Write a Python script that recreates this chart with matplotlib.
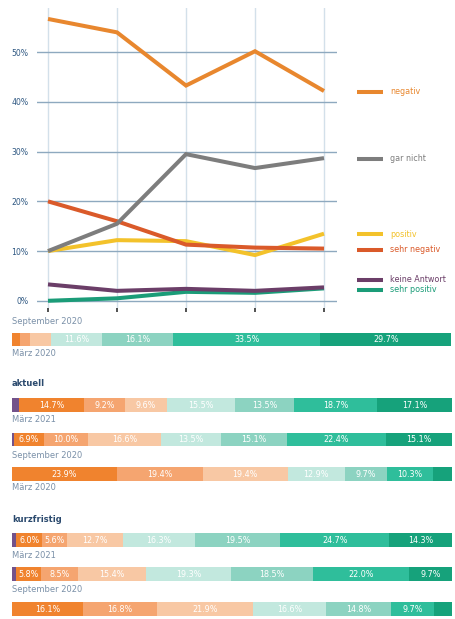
import matplotlib
matplotlib.use("Agg")
import matplotlib.pyplot as plt
from matplotlib.lines import Line2D

# ---------------- data ----------------
waves = ["März 2020", "September 2020", "März 2021", "t4", "t5"]
line_series = ["negativ", "gar nicht", "positiv", "sehr negativ", "keine Antwort", "sehr positiv"]
negativ = [56.7, 54.0, 43.3, 50.2, 42.2]
gar_nicht = [10.0, 15.5, 29.5, 26.7, 28.7]
positiv = [10.0, 12.2, 12.0, 9.2, 13.5]
sehr_negativ = [20.0, 16.0, 11.3, 10.7, 10.5]
keine_antwort = [3.3, 2.0, 2.4, 2.0, 2.7]
sehr_positiv = [0.0, 0.5, 1.8, 1.6, 2.5]
y_ticks = [0, 10, 20, 30, 40, 50]
y_tick_labels = ["0%", "10%", "20%", "30%", "40%", "50%"]

# stacked bars: [keine Antwort, 7 scale categories from negative to positive]
bar_top = [0.0, 1.8, 2.3, 4.8, 11.6, 16.1, 33.5, 29.7]
akt_1 = [1.7, 14.7, 9.2, 9.6, 15.5, 13.5, 18.7, 17.1]
akt_2 = [0.4, 6.9, 10.0, 16.6, 13.5, 15.1, 22.4, 15.1]
akt_3 = [0.0, 23.9, 19.4, 19.4, 12.9, 9.7, 10.3, 4.4]
kurz_1 = [0.9, 6.0, 5.6, 12.7, 16.3, 19.5, 24.7, 14.3]
kurz_2 = [0.8, 5.8, 8.5, 15.4, 19.3, 18.5, 22.0, 9.7]
kurz_3 = [0.0, 16.1, 16.8, 21.9, 16.6, 14.8, 9.7, 4.1]
section_titles = ["aktuell", "kurzfristig"]
date_labels = ["September 2020", "März 2020", "März 2021", "September 2020", "März 2020",
               "März 2021", "September 2020"]

# ---------------- style ----------------
W, H = 456, 619
line_colors = {"negativ": "#E8872E", "gar nicht": "#7D7D7D", "positiv": "#F3C22B",
               "sehr negativ": "#DA5A2A", "keine Antwort": "#6B3E68", "sehr positiv": "#1B9C78"}
seg_colors = ["#73528A", "#F0832E", "#F5A570", "#F8C8A4", "#C2E8DE", "#8CD3C1", "#2FBE9B", "#16A27B"]
tick_col = "#2F5882"
date_col = "#7A90A8"
head_col = "#2B4A6E"

fig = plt.figure(figsize=(W / 100, H / 100), dpi=100)

# ---------------- line chart ----------------
ax = fig.add_axes([37 / W, 1 - 308 / H, 300 / W, 300 / H])
series_vals = [negativ, gar_nicht, positiv, sehr_negativ, keine_antwort, sehr_positiv]
x = list(range(len(waves)))
order = ["sehr positiv", "keine Antwort", "positiv", "sehr negativ", "gar nicht", "negativ"]
for name in order:
    vals = series_vals[line_series.index(name)]
    ax.plot(x, vals, color=line_colors[name], lw=2.9, solid_capstyle="butt",
            solid_joinstyle="miter", zorder=3)
ax.set_xlim(-11 / 69, 4 + 13 / 69)
ax.set_ylim(-1.45, 58.9)
ax.set_yticks(y_ticks)
ax.set_yticklabels(y_tick_labels, color=tick_col, fontsize=5.6)
ax.set_xticks(x)
ax.set_xticklabels([])
ax.tick_params(axis="y", length=0, pad=6)
ax.tick_params(axis="x", length=3, width=1.2, color="#333333", direction="out")
for s in ax.spines.values():
    s.set_visible(False)
ax.yaxis.grid(True, color="#8EA9BF", lw=1.0, zorder=1)
ax.xaxis.grid(True, color="#D3E0EA", lw=1.0, zorder=1)
ax.set_axisbelow(True)

# legend (manual, right side)
leg_y = {"negativ": 92, "gar nicht": 159, "positiv": 234, "sehr negativ": 250,
         "keine Antwort": 280, "sehr positiv": 290}
for name in line_series:
    yy = 1 - leg_y[name] / H
    fig.add_artist(Line2D([357 / W, 383 / W], [yy, yy], color=line_colors[name], lw=2.9,
                          transform=fig.transFigure, solid_capstyle="butt"))
    fig.text(390 / W, yy, name, color=line_colors[name], fontsize=5.8, va="center", ha="left")

# ---------------- stacked bars ----------------
bax = fig.add_axes([12 / W, 0, 440 / W, 1])
bax.set_xlim(0, 100)
bax.set_ylim(H, 0)
bax.axis("off")

bars = [bar_top, akt_1, akt_2, akt_3, kurz_1, kurz_2, kurz_3]
bar_y = [339.5, 405, 439.5, 474, 540, 574, 609]
for vals, yc in zip(bars, bar_y):
    left = 0.0
    for i, v in enumerate(vals):
        if v > 0:
            bax.barh(yc, v, left=left, height=13.5, color=seg_colors[i], edgecolor="none")
            if i > 0 and v >= 5:
                bax.text(left + v / 2, yc + 0.5, f"{v:.1f}%", color="white", fontsize=5.8,
                         ha="center", va="center")
        left += v

date_y = [321, 354, 420, 455, 488, 555, 589]
for lab, yy in zip(date_labels, date_y):
    bax.text(0, yy, lab, color=date_col, fontsize=6, ha="left", va="center")
for lab, yy in zip(section_titles, [384, 520]):
    bax.text(0, yy, lab, color=head_col, fontsize=6, fontweight="bold", ha="left", va="center")

fig.savefig("out.png", dpi=100, facecolor="white")
